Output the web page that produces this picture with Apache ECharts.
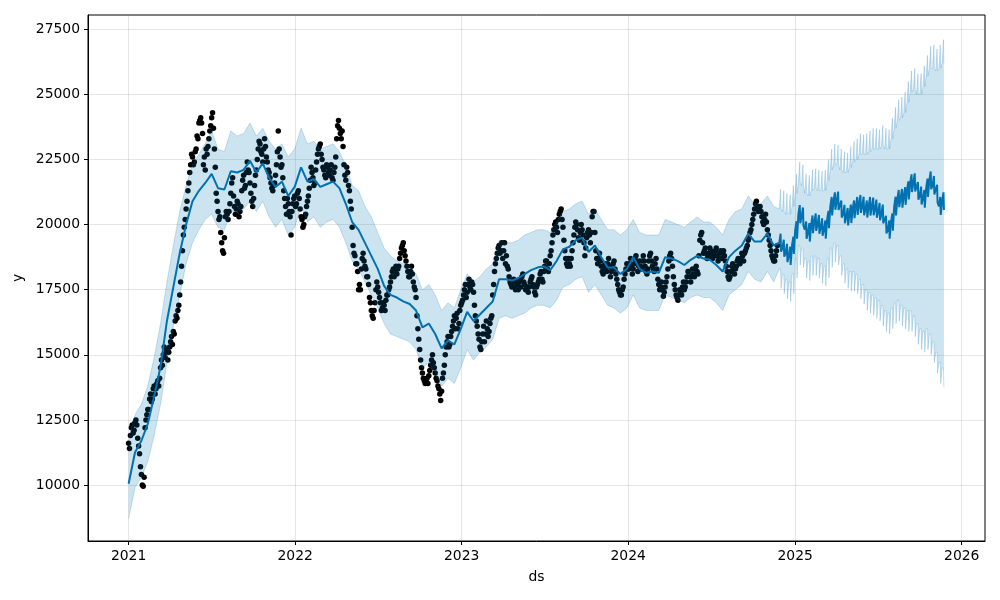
<!DOCTYPE html>
<html><head><meta charset="utf-8">
<script src="https://cdn.jsdelivr.net/npm/echarts@6/dist/echarts.min.js"></script>
<style>html,body{margin:0;padding:0;background:#fff}#chart{width:1000px;height:600px}</style>
</head><body><div id="chart"></div>
<script>
// ---------- DATA ----------
// observed y: two interleaved samplings, every 4 days, starting 2021-01-01 and 2021-01-03
const obsStartA = [2021, 0, 1];
const obsStartB = [2021, 0, 3];
const obsStepDays = 4;
const obsValuesA = [
11600,11900,12300,12100,12500,11800,11200,10400,9950,12200,12700,
12900,13500,13300,13800,13700,14000,14100,14800,15000,14900,15200,
15100,15500,15400,15800,16500,16700,17300,18400,19600,20200,20900,
21600,22300,22600,22400,22900,23300,24000,23900,22300,22100,22700,
23300,23800,24300,22900,21200,20500,20300,19300,18900,20300,20400,
20500,21200,21800,20700,20600,20800,20500,21300,21900,21500,22400,
22000,21200,20700,21500,22100,22900,23100,22700,22900,23000,22400,
22000,21600,21300,21600,22300,23600,22600,22300,21300,20700,21000,
20500,19600,20800,21100,20800,21300,20600,20200,20000,20400,20900,
21400,22200,21800,21600,22400,22900,23100,22500,22100,21800,22200,
21900,22300,21700,22200,23300,24000,23500,23600,22300,21700,22000,
21300,20600,19200,18800,18500,17500,17500,18700,18600,18300,18000,
17200,16700,16400,17000,17800,17400,17000,16800,16900,17100,17300,
17600,18000,18300,18200,18100,18400,18900,19200,19000,18600,18200,
18000,18400,17800,17500,16500,15600,14800,14300,14000,14000,13900,
14400,14800,14700,14300,14000,13700,13250,14100,14600,15300,15700,
15400,15900,16300,16000,16600,16200,16900,17100,17500,17200,17700,
17600,17800,17400,16500,16100,15600,15200,15800,15500,16300,
15700,16200,16500,17700,18500,18900,19200,19000,18700,19300,18800,
18300,17800,17600,17900,17500,17700,17800,17600,18100,17700,17500,
17400,17800,18000,17600,17300,17700,17900,18200,17800,18400,18600,
18200,18800,19300,19800,20100,19700,20400,20600,19900,19000,18500,
18700,18400,19000,19600,20100,19800,19400,20000,19600,18800,19500,
19800,19300,20300,20500,19000,18500,18900,18400,18100,18500,18200,
18700,18000,18300,18600,18100,17700,17400,17300,17600,18100,18500,
18300,18700,18100,18500,18800,18200,18600,18300,18800,18400,18100,
18600,18900,18400,18200,18700,17900,17500,17800,17250,17600,18000,
18600,18900,18400,17700,17300,17100,17500,17300,17800,17600,18000,
18200,17800,18300,18000,18400,18100,19400,19700,18900,19100,18700,
18900,19000,18700,18800,19100,18600,18900,18700,19000,18600,18200,
17900,18200,18500,18100,18400,18700,18500,18900,18600,19000,19200,
19500,19800,20200,20600,20900,20500,20700,20300,20000,20400,19800,19400,19000,18700,18600,19000
];
const obsValuesB = [
11400,12200,12000,12400,12300,11500,10700,10000,10300,12500,12900,
13300,13200,13700,13500,13900,13800,14500,14600,15300,15100,14800,
15300,15700,15900,16300,16400,16900,17800,19000,19900,20600,21300,
22000,22700,22300,22800,23400,23900,24100,23500,22600,22900,23000,
23600,24100,23700,22200,20900,20200,19700,19000,19500,20500,20200,
20800,21600,21100,20400,20900,20300,20700,21700,21400,22000,22100,
21600,20900,21000,21900,22500,23200,22800,22400,23300,22600,22100,
21800,21400,21500,21900,22800,22900,22200,21800,21000,20400,20800,
20300,20500,21000,20700,21200,21000,20300,19900,20300,20700,21100,
21700,22000,21500,22100,22700,23000,22700,22200,21900,22300,22000,
22100,21800,22000,22600,23800,23700,23300,23000,21900,22200,21500,
20900,19900,18900,18500,18200,17700,18300,18900,18400,18000,17700,
17000,16500,16700,17500,17600,17200,16700,17000,16700,17300,17500,
17800,18200,18000,18400,18300,18700,19100,19300,18800,18400,18000,
18200,18100,17600,17200,16000,15200,14500,14100,13900,14100,14200,
14600,15000,14500,14100,13800,13500,13600,14300,15000,15500,15300,
15700,16100,16500,16400,16000,16700,17000,17300,17700,17400,17900,
17500,17700,16900,16300,15800,15300,15500,16100,15800,16000,
15900,16400,17300,18200,18700,19100,18900,19300,19000,18500,18400,
18000,17700,17800,17600,17800,17500,17900,18000,17800,17500,17600,
17600,17900,17700,17400,17600,17800,18100,17900,18200,18600,18300,
18500,19000,19600,20000,19900,20200,20500,20200,19400,18700,18400,
18500,18700,19300,19900,20000,19500,19700,19800,19300,19100,19700,
19600,19700,20500,19700,18700,18700,18600,18200,18400,18300,18500,
18400,18200,18500,18300,17900,17500,17300,17500,17900,18300,18300,
18500,18400,18300,18700,18500,18400,18400,18600,18600,18200,18300,
18800,18600,18300,18500,18300,17700,17600,17500,17400,17800,18300,
18800,18700,18000,17500,17200,17300,17400,17600,17500,17800,18200,
18000,18000,18100,18300,18200,18800,19600,19300,19000,18900,18800,
19100,18800,18900,19000,18800,18700,19000,18900,18800,18400,18000,
18000,18400,18300,18300,18600,18600,18700,18800,18900,19100,19400,
19700,20000,20400,20800,20700,20600,20500,20100,20200,20100,19600,19200,18800,18600,18800,19200
];

// fitted history (every 14 days starting 2021-01-01)
const histStart = [2021, 0, 1];
const histStepDays = 14;
const histYhat = [
10050,11250,11700,12350,13400,14550,16300,17600,18900,20000,
20900,21300,21600,21950,21400,21350,22050,22000,22100,22450,
22000,22350,21800,21450,21650,21100,21450,22200,21650,21750,
21450,21550,21650,21400,20800,20100,19800,19300,18800,18300,
17650,17300,17200,17050,16950,16700,16050,16200,15800,15250,
15550,15400,16000,16650,16300,16550,16800,17050,17900,17900,
17850,17950,18100,18250,18350,18400,18250,18600,19050,19150,
19400,19500,18950,19200,18750,18350,18350,18100,18300,18750,
18300,18150,18200,18150,18750,18700,18600,18450,18650,18800,
18700,18650,18450,18200,18750,19000,19200,19650,19350,19350,
19650,19200
];
const histUpper = [
11800,12700,13100,13800,14900,16200,17800,19200,20500,21500,
22300,22700,23100,23600,22900,22800,23600,23400,23500,23900,
23400,23700,23200,22900,23100,22600,22900,23700,23100,23200,
22900,23000,23100,22800,22300,21500,21300,20700,20300,19700,
19100,18800,18600,18500,18400,18100,17500,17700,17300,16700,
17000,16800,17500,18100,17800,18000,18300,18500,19400,19300,
19300,19400,19600,19700,19800,19800,19700,20100,20500,20600,
20800,20900,20400,20600,20200,19800,19800,19600,19800,20200,
19700,19600,19600,19600,20200,20100,20000,19900,20100,20300,
20100,20100,19900,19600,20200,20500,20600,21100,20800,20800,
21100,20700
];
const histLower = [
8700,9900,10300,10900,11900,13100,14700,16100,17300,18500,
19300,19800,20200,20400,19900,19800,20500,20500,20600,20900,
20500,20900,20300,19900,20200,19600,19900,20700,20100,20300,
19900,20100,20200,19900,19300,18600,18300,17800,17300,16800,
16200,15800,15700,15600,15500,15200,14500,14700,14300,13800,
14100,13900,14500,15200,14800,15100,15300,15600,16400,16500,
16400,16500,16600,16800,16900,16900,16800,17100,17600,17700,
17900,18000,17400,17700,17300,16900,16800,16600,16800,17300,
16800,16700,16700,16700,17300,17200,17100,17000,17200,17300,
17200,17200,17000,16700,17300,17500,17700,18200,17900,17800,
18200,17800
];

// forecast, one entry per week starting Monday 2024-11-25
const futStart = [2024, 10, 25];
const futYhat = [
19300,19100,18900,18800,19200,19800,20400,20300,19800,19700,
20000,20100,20000,19900,19800,20200,20700,20900,20900,20600,
20400,20300,20400,20600,20700,20800,20700,20600,20700,20700,
20600,20500,20400,20000,19800,20100,20700,21000,21000,21100,
21300,21600,21600,21300,21100,21000,21400,21700,21500,21200,
20700,20900
];
const futYhatSat = [
19650,19420,19260,19150,19540,20130,20750,20660,20120,20060,
20350,20430,20370,20240,20160,20530,21060,21240,21270,20930,
20760,20640,20770,20930,21060,21140,21070,20930,21060,21040,
20960,20830,20770,20340,20160,20430,21070,21330,21370,21440,
21660,21930,21970,21640,21460,21330,21770,22040,21870,21530,
21060,21240
];
const futYhatSun = [
18960,18770,18560,18450,18870,19460,20050,19970,19460,19350,
19670,19760,19650,19570,19460,19860,20350,20570,20560,20270,
20050,19970,20060,20250,20370,20450,20360,20270,20350,20360,
20260,20170,20050,19660,19460,19770,20350,20670,20650,20760,
20970,21250,21270,20960,20770,20650,21060,21360,21160,20850,
20370,20560
];
const futUpper = [
20600,20500,20400,20400,20700,21200,21600,21500,21200,21100,
21300,21400,21300,21300,21300,21700,22100,22300,22300,22100,
22000,22000,22200,22400,22500,22700,22700,22700,22800,22900,
22900,22900,23000,22900,22900,23300,23700,24000,24100,24300,
24700,25100,25200,25000,25000,25300,25700,26000,26000,25900,
26000,26200
];
const futUpperSat = [
21350,21300,21200,21150,21500,21950,22400,22300,21950,21900,
22100,22150,22100,22050,22100,22500,22900,23100,23050,22900,
22800,22750,23000,23200,23300,23500,23450,23500,23600,23700,
23700,23650,23800,23700,23650,24100,24500,24800,24900,25100,
25500,25900,26000,25800,25800,26100,26500,26850,26900,26750,
26900,27100
];
const futLower = [
18300,18100,17900,17800,18100,18700,19200,19100,18700,18600,
18800,18800,18700,18500,18400,18700,19100,19300,19200,18800,
18500,18300,18200,18200,18100,17900,17700,17500,17400,17300,
17200,17100,16900,16700,16600,16800,17000,17100,16900,16800,
16700,16700,16500,16200,16000,15900,16000,15800,15500,15100,
14700,14500
];
const futLowerSun = [
17550,17350,17150,17050,17350,17950,18450,18350,17950,17850,
18050,18050,17950,17750,17650,17950,18350,18550,18450,18050,
17750,17550,17450,17450,17350,17150,16950,16700,16600,16500,
16400,16300,16100,15900,15800,16000,16200,16300,16100,16000,
15900,15900,15700,15400,15200,15100,15200,15000,14700,14300,
13900,13750
];

const xTickDates = ['2021-01-01','2022-01-01','2023-01-01','2024-01-01','2025-01-01','2026-01-01'];
const xTickLabels = ['2021','2022','2023','2024','2025','2026'];
const yTicks = [10000,12500,15000,17500,20000,22500,25000,27500];

// ---------- BUILD ----------
function day(base, add) {
  const d = new Date(base[0], base[1], base[2]);
  d.setDate(d.getDate() + add);
  return d.getTime();
}
function parseYMD(s) { const p = s.split('-').map(Number); return new Date(p[0], p[1]-1, p[2]).getTime(); }
const xTickTimes = xTickDates.map(parseYMD);

const obs = obsValuesA.map((v, i) => [day(obsStartA, i * obsStepDays), v])
  .concat(obsValuesB.map((v, i) => [day(obsStartB, i * obsStepDays), v]));
const fc = [];
histYhat.forEach((v, i) => fc.push([day(histStart, i * histStepDays), v, histUpper[i], histLower[i]]));
futYhat.forEach((v, k) => {
  fc.push([day(futStart, 7 * k + 2), v, futUpper[k], futLower[k]]);
  fc.push([day(futStart, 7 * k + 5), futYhatSat[k], futUpperSat[k], futLower[k]]);
  fc.push([day(futStart, 7 * k + 6), futYhatSun[k], futUpper[k], futLowerSun[k]]);
});

const FONT = 'DejaVu Sans';
const FS = 13.9;
const bandColor = 'rgba(0,114,178,0.2)';

const chart = echarts.init(document.getElementById('chart'), null, {renderer: 'canvas'});
chart.setOption({
  animation: false,
  backgroundColor: '#fff',
  textStyle: {fontFamily: FONT},
  grid: {left: 88, right: 15, top: 15, bottom: 59, show: true, borderColor: '#000', borderWidth: 1, backgroundColor: 'transparent'},
  xAxis: {
    type: 'value',
    min: new Date(2020, 9, 4).getTime(),
    max: new Date(2026, 1, 21).getTime(),
    name: 'ds', nameLocation: 'middle', nameGap: 29,
    nameTextStyle: {fontFamily: FONT, fontSize: FS, color: '#000'},
    axisLine: {show: true, onZero: false, lineStyle: {color: '#000', width: 1}},
    axisTick: {show: true, length: 4, customValues: xTickTimes, lineStyle: {color: '#000', width: 1}},
    axisLabel: {show: true, customValues: xTickTimes, margin: 8, fontFamily: FONT, fontSize: FS, color: '#000',
      formatter: function (v) { const i = xTickTimes.indexOf(v); return i >= 0 ? xTickLabels[i] : ''; }},
    splitLine: {show: true, lineStyle: {color: 'rgba(128,128,128,0.2)', width: 1}}
  },
  yAxis: {
    type: 'value',
    min: 7850, max: 28050,
    name: 'y', nameLocation: 'middle', nameGap: 60, nameRotate: 90,
    nameTextStyle: {fontFamily: FONT, fontSize: FS, color: '#000'},
    axisLine: {show: true, lineStyle: {color: '#000', width: 1}},
    axisTick: {show: true, length: 4, customValues: yTicks, lineStyle: {color: '#000', width: 1}},
    axisLabel: {show: true, customValues: yTicks, margin: 8, fontFamily: FONT, fontSize: FS, color: '#000',
      formatter: function (v) { return String(v); }},
    splitLine: {show: true, lineStyle: {color: 'rgba(128,128,128,0.2)', width: 1}}
  },
  series: [
    {type: 'scatter', name: 'y', data: obs, symbol: 'circle', symbolSize: 5.5,
     itemStyle: {color: '#000', opacity: 1}, silent: true, z: 2},
    {type: 'line', name: 'yhat', data: fc.map(r => [r[0], r[1]]), showSymbol: false, symbol: 'none',
     lineStyle: {color: '#0072B2', width: 2}, silent: true, z: 3},
    {type: 'custom', name: 'interval', silent: true, z: 4, clip: true,
     data: [[fc[0][0], fc[0][1]]],
     encode: {x: 0, y: 1},
     renderItem: function (params, api) {
       const up = fc.map(r => api.coord([r[0], r[2]]));
       const lo = fc.map(r => api.coord([r[0], r[3]]));
       const poly = up.concat(lo.slice().reverse());
       return {type: 'group', children: [
         {type: 'polygon', shape: {points: poly}, style: {fill: bandColor, stroke: null}},
         {type: 'polyline', shape: {points: up}, style: {fill: null, stroke: bandColor, lineWidth: 1}},
         {type: 'polyline', shape: {points: lo}, style: {fill: null, stroke: bandColor, lineWidth: 1}}
       ]};
     }}
  ]
});
</script>
</body></html>
